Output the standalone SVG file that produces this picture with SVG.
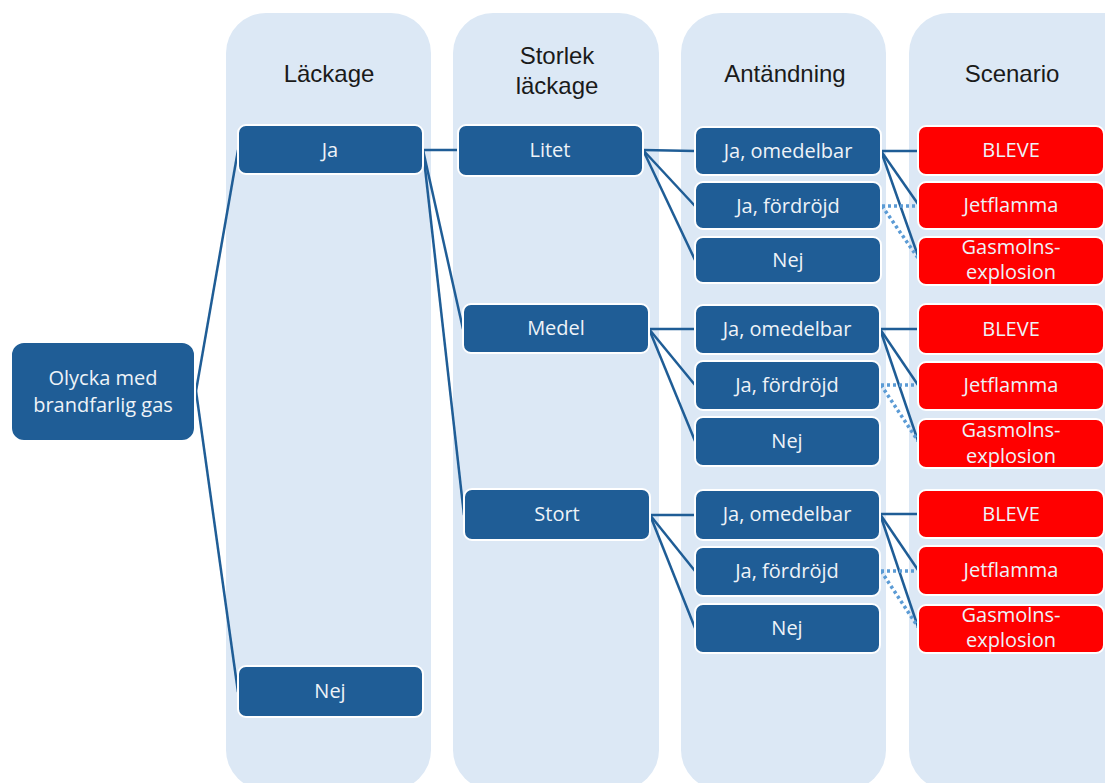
<svg xmlns="http://www.w3.org/2000/svg" width="1105" height="783" viewBox="0 0 1105 783">
<style>
.col{fill:#dce8f5}
.hdr{font-family:"Liberation Sans",Arial,sans-serif;font-size:24px;fill:#1a1a1a;text-anchor:middle}
.n rect{fill:#1f5d96;stroke:#ffffff;stroke-width:2}
.r rect{fill:#ff0000;stroke:#ffffff;stroke-width:2}
.n text,.r text{font-family:"Open Sans","Liberation Sans",sans-serif;font-size:20px;fill:#eef3f8;text-anchor:middle}
.c line{stroke:#1f5d96;stroke-width:2.5}
.c line.d{stroke:#5b9bd5;stroke-width:3.5;stroke-dasharray:3 3}
</style>
<rect width="1105" height="783" fill="#ffffff"/>
<g id="columns">
<rect class="col" x="226" y="13" width="205" height="777" rx="40"/>
<rect class="col" x="453" y="13" width="206" height="777" rx="40"/>
<rect class="col" x="681" y="13" width="205" height="777" rx="40"/>
<rect class="col" x="909" y="13" width="240" height="777" rx="40"/>
<text class="hdr" x="329" y="82">Läckage</text>
<text class="hdr" x="557" y="64">Storlek</text>
<text class="hdr" x="557" y="94">läckage</text>
<text class="hdr" x="785" y="82">Antändning</text>
<text class="hdr" x="1012" y="82">Scenario</text>
</g>
<g id="connectors" class="c">
<line x1="196" y1="391" x2="238" y2="150"/>
<line x1="196" y1="391" x2="238" y2="692"/>
<line x1="423" y1="150" x2="458" y2="150"/>
<line x1="423" y1="150" x2="463" y2="329"/>
<line x1="423" y1="150" x2="464" y2="515"/>
<line x1="643" y1="150" x2="695" y2="151"/>
<line x1="643" y1="150" x2="695" y2="206"/>
<line x1="643" y1="150" x2="695" y2="260"/>
<line x1="649" y1="329" x2="695" y2="329"/>
<line x1="649" y1="329" x2="695" y2="385"/>
<line x1="649" y1="329" x2="695" y2="441"/>
<line x1="650" y1="515" x2="695" y2="515"/>
<line x1="650" y1="515" x2="695" y2="571"/>
<line x1="650" y1="515" x2="695" y2="628"/>
<line x1="881" y1="151" x2="918" y2="151"/>
<line x1="881" y1="151" x2="918" y2="204"/>
<line x1="881" y1="151" x2="918" y2="256"/>
<line x1="880" y1="329" x2="918" y2="329"/>
<line x1="880" y1="329" x2="918" y2="385"/>
<line x1="880" y1="329" x2="918" y2="441"/>
<line x1="880" y1="514" x2="918" y2="514"/>
<line x1="880" y1="514" x2="918" y2="570"/>
<line x1="880" y1="514" x2="918" y2="627"/>
<line class="d" x1="882" y1="206" x2="918" y2="206"/>
<line class="d" x1="882" y1="206" x2="918" y2="258"/>
<line class="d" x1="881" y1="385" x2="918" y2="385"/>
<line class="d" x1="881" y1="385" x2="918" y2="441"/>
<line class="d" x1="881" y1="571" x2="918" y2="571"/>
<line class="d" x1="881" y1="571" x2="918" y2="627"/>
</g>
<g id="root" class="n"><rect x="11" y="342" width="184" height="99" rx="13"/><text x="103" y="385">Olycka med</text><text x="103" y="412">brandfarlig gas</text></g>
<g id="lack-ja" class="n"><rect x="238" y="125" width="185" height="49" rx="8"/><text x="330" y="157">Ja</text></g>
<g id="lack-nej" class="n"><rect x="238" y="666" width="185" height="51" rx="8"/><text x="330" y="698">Nej</text></g>
<g id="litet" class="n"><rect x="458" y="125" width="185" height="51" rx="8"/><text x="550" y="157">Litet</text></g>
<g id="medel" class="n"><rect x="463" y="304" width="186" height="49" rx="8"/><text x="556" y="335">Medel</text></g>
<g id="stort" class="n"><rect x="464" y="489" width="186" height="51" rx="8"/><text x="557" y="521">Stort</text></g>
<g id="a1-om" class="n"><rect x="695" y="127" width="186" height="48" rx="8"/><text x="788" y="158">Ja, omedelbar</text></g>
<g id="a1-ford" class="n"><rect x="695" y="182" width="186" height="47" rx="8"/><text x="788" y="213">Ja, fördröjd</text></g>
<g id="a1-nej" class="n"><rect x="695" y="237" width="186" height="46" rx="8"/><text x="788" y="267">Nej</text></g>
<g id="a2-om" class="n"><rect x="695" y="305" width="185" height="49" rx="8"/><text x="787" y="336">Ja, omedelbar</text></g>
<g id="a2-ford" class="n"><rect x="695" y="361" width="185" height="49" rx="8"/><text x="787" y="392">Ja, fördröjd</text></g>
<g id="a2-nej" class="n"><rect x="695" y="417" width="185" height="49" rx="8"/><text x="787" y="448">Nej</text></g>
<g id="a3-om" class="n"><rect x="695" y="490" width="185" height="50" rx="8"/><text x="787" y="521">Ja, omedelbar</text></g>
<g id="a3-ford" class="n"><rect x="695" y="547" width="185" height="49" rx="8"/><text x="787" y="578">Ja, fördröjd</text></g>
<g id="a3-nej" class="n"><rect x="695" y="604" width="185" height="49" rx="8"/><text x="787" y="635">Nej</text></g>
<g id="s1-bleve" class="r"><rect x="918" y="126" width="186" height="49" rx="8"/><text x="1011" y="157">BLEVE</text></g>
<g id="s1-jet" class="r"><rect x="918" y="182" width="186" height="47" rx="8"/><text x="1011" y="212">Jetflamma</text></g>
<g id="s1-gas" class="r"><rect x="918" y="237" width="186" height="48" rx="8"/><text x="1011" y="254">Gasmolns-</text><text x="1011" y="279">explosion</text></g>
<g id="s2-bleve" class="r"><rect x="918" y="304" width="186" height="50" rx="8"/><text x="1011" y="336">BLEVE</text></g>
<g id="s2-jet" class="r"><rect x="918" y="362" width="186" height="48" rx="8"/><text x="1011" y="392">Jetflamma</text></g>
<g id="s2-gas" class="r"><rect x="918" y="419" width="186" height="49" rx="8"/><text x="1011" y="437">Gasmolns-</text><text x="1011" y="463">explosion</text></g>
<g id="s3-bleve" class="r"><rect x="918" y="490" width="186" height="48" rx="8"/><text x="1011" y="521">BLEVE</text></g>
<g id="s3-jet" class="r"><rect x="918" y="546" width="186" height="49" rx="8"/><text x="1011" y="577">Jetflamma</text></g>
<g id="s3-gas" class="r"><rect x="918" y="605" width="186" height="48" rx="8"/><text x="1011" y="622">Gasmolns-</text><text x="1011" y="647">explosion</text></g>
</svg>
